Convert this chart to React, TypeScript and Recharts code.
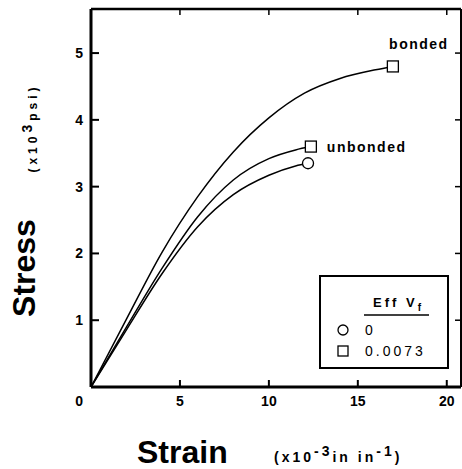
import React from "react"
import { LineChart, Line, XAxis, YAxis } from "recharts"

// strain (x10^-3 in/in) vs stress (x10^3 psi)
const bondedStrain = [0, 2, 4, 6, 8, 10, 12, 14, 16, 16.97]
const bondedStress = [0, 1.02, 2.02, 2.85, 3.52, 4.03, 4.4, 4.62, 4.75, 4.8]
const unbondedStrain = [0, 2, 4, 6, 8, 10, 11.5, 12.36]
const unbondedStress = [0, 0.9, 1.78, 2.55, 3.1, 3.42, 3.55, 3.6]
const plainStrain = [0, 2, 4, 6, 8, 10, 11.5, 12.2]
const plainStress = [0, 0.86, 1.7, 2.4, 2.88, 3.17, 3.31, 3.35]

const xTicks = [0, 5, 10, 15, 20]
const yTicks = [0, 1, 2, 3, 4, 5]

const toRows = (xs: number[], ys: number[]) => xs.map((x, i) => ({ x, y: ys[i] }))

const bonded = toRows(bondedStrain, bondedStress)
const unbonded = toRows(unbondedStrain, unbondedStress)
const plain = toRows(plainStrain, plainStress)

const FONT = "'Liberation Sans', Arial, sans-serif"

function endMarker(shape: "square" | "circle", count: number, label?: string, dx = 0, dy = 0, anchor = "start") {
  return (props: any) => {
    const { cx, cy, index } = props
    if (index !== count - 1) return <g key={`d${index}`} />
    return (
      <g key={`d${index}`}>
        {shape === "square" ? (
          <rect x={cx - 5.5} y={cy - 5.5} width={11} height={11} fill="#fff" stroke="#000" strokeWidth={1.3} />
        ) : (
          <circle cx={cx} cy={cy} r={5.5} fill="#fff" stroke="#000" strokeWidth={1.3} />
        )}
        {label && (
          <text x={cx + dx} y={cy + dy} textAnchor={anchor} fontFamily={FONT} fontWeight="bold" fontSize={14} letterSpacing={1.5} fill="#000">
            {label}
          </text>
        )}
      </g>
    )
  }
}

const XTick = (props: any) => {
  const { x, y, payload } = props
  return (
    <g>
      <line x1={x} y1={y} x2={x} y2={y - 7} stroke="#000" strokeWidth={2} />
      {payload.value !== 0 && (
        <text x={x} y={y + 19} textAnchor="middle" fontFamily={FONT} fontWeight="bold" fontSize={14} fill="#000">
          {payload.value}
        </text>
      )}
    </g>
  )
}

const YTick = (props: any) => {
  const { x, y, payload } = props
  const isZero = payload.value === 0
  return (
    <g>
      {!isZero && <line x1={x} y1={y} x2={x + 8} y2={y} stroke="#000" strokeWidth={2} />}
      <text x={x - 8} y={isZero ? y + 19 : y + 5} textAnchor="end" fontFamily={FONT} fontWeight="bold" fontSize={14} fill="#000">
        {payload.value}
      </text>
    </g>
  )
}

const TopTick = (props: any) => {
  const { x, y, payload } = props
  if (payload.value === 0) return <g />
  return <line x1={x} y1={y} x2={x} y2={y + 6} stroke="#000" strokeWidth={1.5} />
}

const RightTick = (props: any) => {
  const { x, y, payload } = props
  if (payload.value === 0) return <g />
  return <line x1={x} y1={y} x2={x - 6} y2={y} stroke="#000" strokeWidth={1.5} />
}

export default function App() {
  return (
    <div style={{ position: "absolute", left: 0, top: 0, width: 462, height: 469, background: "#fff" }}>
      <LineChart width={462} height={469} margin={{ top: 8, right: 0, bottom: 81, left: 90 }}>
        <XAxis
          xAxisId="b"
          type="number"
          dataKey="x"
          domain={[0, 20.8]}
          ticks={xTicks}
          allowDataOverflow
          height={1}
          tickSize={0}
          tickMargin={0}
          tickLine={false}
          axisLine={{ stroke: "#000", strokeWidth: 3 }}
          tick={XTick}
        />
        <XAxis
          xAxisId="t"
          orientation="top"
          type="number"
          dataKey="x"
          domain={[0, 20.8]}
          ticks={xTicks}
          allowDataOverflow
          height={1}
          tickSize={0}
          tickMargin={0}
          tickLine={false}
          axisLine={{ stroke: "#000", strokeWidth: 2.5 }}
          tick={TopTick}
        />
        <YAxis
          yAxisId="l"
          type="number"
          domain={[0, 5.66]}
          ticks={yTicks}
          allowDataOverflow
          width={1}
          tickSize={0}
          tickMargin={0}
          tickLine={false}
          axisLine={{ stroke: "#000", strokeWidth: 3 }}
          tick={YTick}
        />
        <YAxis
          yAxisId="r"
          orientation="right"
          type="number"
          domain={[0, 5.66]}
          ticks={yTicks}
          allowDataOverflow
          width={1}
          tickSize={0}
          tickMargin={0}
          tickLine={false}
          axisLine={{ stroke: "#000", strokeWidth: 2 }}
          tick={RightTick}
        />
        <Line
          xAxisId="b"
          yAxisId="l"
          data={bonded}
          dataKey="y"
          type="monotone"
          stroke="#000"
          strokeWidth={1.5}
          dot={endMarker("square", bonded.length, "bonded", 26, -17, "middle")}
          isAnimationActive={false}
        />
        <Line
          xAxisId="b"
          yAxisId="l"
          data={unbonded}
          dataKey="y"
          type="monotone"
          stroke="#000"
          strokeWidth={1.5}
          dot={endMarker("square", unbonded.length, "unbonded", 16, 5)}
          isAnimationActive={false}
        />
        <Line
          xAxisId="b"
          yAxisId="l"
          data={plain}
          dataKey="y"
          type="monotone"
          stroke="#000"
          strokeWidth={1.5}
          dot={endMarker("circle", plain.length)}
          isAnimationActive={false}
        />
      </LineChart>

      <svg width={462} height={469} style={{ position: "absolute", left: 0, top: 0, pointerEvents: "none" }}>
        <g fontFamily={FONT} fontWeight="bold" fill="#000">
          <text transform="translate(35,268) rotate(-90)" textAnchor="middle" fontSize={32}>
            Stress
          </text>
          <text transform="translate(37,128) rotate(-90)" textAnchor="middle" fontSize={12} letterSpacing={4}>
            (x10<tspan dy={-5} fontSize={14}>3</tspan>
            <tspan dy={5}>psi)</tspan>
          </text>
          <text x={137} y={463} fontSize={32}>
            Strain
          </text>
          <text x={274} y={462} fontSize={14} letterSpacing={3}>
            (x10<tspan dy={-6}>-3</tspan>
            <tspan dy={6}>in in</tspan>
            <tspan dy={-6}>-1</tspan>
            <tspan dy={6}>)</tspan>
          </text>

          <rect x={320} y={276} width={128} height={92} fill="#fff" stroke="#000" strokeWidth={2} />
          <text x={373} y={307} fontSize={13} letterSpacing={3}>
            Eff V<tspan dy={4} fontSize={10}>f</tspan>
          </text>
          <line x1={364} y1={315} x2={429} y2={315} stroke="#000" strokeWidth={1.5} />
          <circle cx={343} cy={330} r={5} fill="#fff" stroke="#000" strokeWidth={1.3} />
          <text x={365} y={335} fontSize={14} fontWeight="normal" letterSpacing={3}>
            0
          </text>
          <rect x={338} y={346} width={10} height={10} fill="#fff" stroke="#000" strokeWidth={1.3} />
          <text x={365} y={356} fontSize={14} fontWeight="normal" letterSpacing={3}>
            0.0073
          </text>
        </g>
      </svg>
    </div>
  )
}
